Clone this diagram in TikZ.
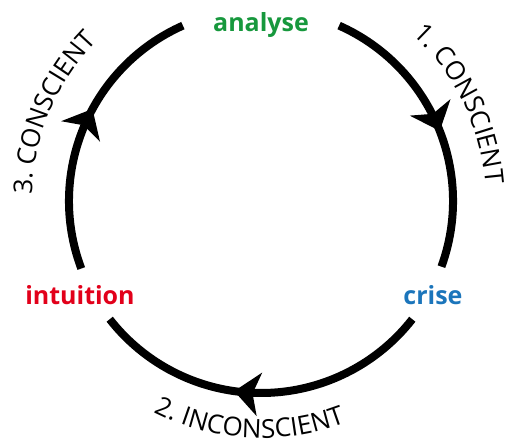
\documentclass[tikz,border=0pt]{standalone}
\usepackage{fontspec}
\setmainfont{Open Sans}
\usetikzlibrary{calc, decorations.markings, decorations.text}
\definecolor{anagreen}{HTML}{17983D}
\definecolor{criseblue}{HTML}{1B75BB}
\definecolor{intured}{HTML}{E2001A}

\begin{document}
\begin{tikzpicture}[x=1pt, y=1pt,
  lbl/.style={font=\fontsize{25}{25}\selectfont\bfseries, anchor=base, inner sep=0pt},
  cyclearc/.style={line width=8pt, postaction={decorate, decoration={markings,
    mark=at position #1 with {\fill (2.5pt,0pt) -- (-23pt,22pt) -- (-16pt,0pt) -- (-23pt,-22pt) -- cycle;}}}},
  cyclearc/.default=0.56,
  phase/.style={decorate, decoration={text along path, text align=center,
    text={|\fontsize{26}{26}\selectfont|#1}}}
]
  \useasboundingbox (0,0) rectangle (506,445);
  \coordinate (c) at (261,244);
  \node[lbl, text=anagreen] (analyse) at (261,413) {analyse};
  \node[lbl, text=criseblue] (crise) at (433,141) {crise};
  \node[lbl, text=intured] (intuition) at (80,141) {intuition};
  \draw[cyclearc=0.51] ($(c)+(66:192)$) arc[start angle=66, end angle=-20, radius=192];
  \draw[cyclearc=0.57] ($(c)+(-38:192)$) arc[start angle=-38, end angle=-142, radius=192];
  \draw[cyclearc=0.56] ($(c)+(200.6:192)$) arc[start angle=200.6, end angle=114, radius=192];
  \path[phase={1. CONSCIENT}] ($(c)+(61:225)$) arc[start angle=61, end angle=-9, radius=225];
  \path[phase={2. INCONSCIENT}] ($(c)+(-133:237)$) arc[start angle=-133, end angle=-53, radius=237];
  \path[phase={3. CONSCIENT}] ($(c)+(192:229)$) arc[start angle=192, end angle=122, radius=229];
\end{tikzpicture}
\end{document}
